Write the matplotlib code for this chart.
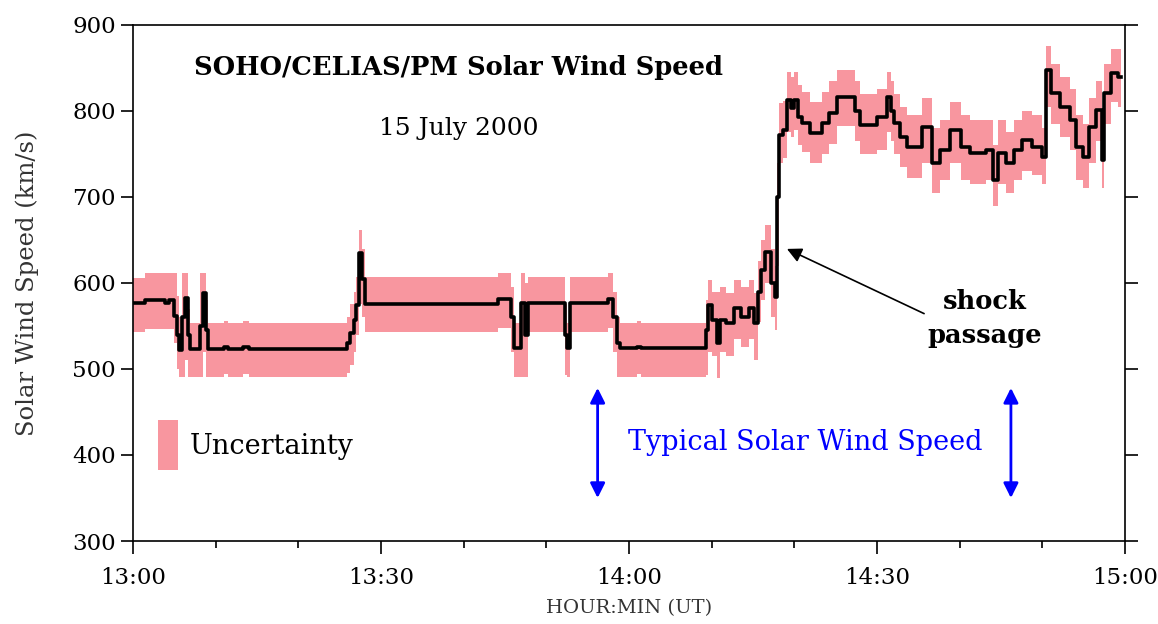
import matplotlib
matplotlib.use("Agg")
import matplotlib.pyplot as plt
from matplotlib.patches import Rectangle
from matplotlib.ticker import MultipleLocator

# minutes after 13:00 UT, speed (km/s) and the uncertainty band edges
minutes = [0.0, 1.4, 3.9, 4.3, 4.9, 5.3, 5.6, 5.9, 6.3, 6.6, 6.9, 8.1, 8.5, 8.8,
           9.1, 11.0, 11.5, 13.3, 14.0, 25.9, 26.3, 26.7, 27.0, 27.3, 27.7,
           28.1, 44.2, 45.7, 46.1, 46.9, 47.4, 47.8, 52.2, 52.5, 52.9, 57.5,
           58.1, 58.5, 58.9, 61.0, 61.5, 69.3, 69.6, 70.0, 70.6, 71.0, 71.7,
           72.7, 73.5, 74.5, 75.1, 75.6, 76.0, 76.5, 77.2, 77.6, 77.9, 78.1,
           78.6, 79.1, 79.6, 80.0, 80.4, 80.9, 81.9, 83.4, 84.2, 85.1, 87.3,
           87.9, 90.0, 91.2, 91.7, 92.1, 92.8, 93.6, 95.4, 96.6, 97.6, 98.8,
           100.2, 101.2, 103.2, 104.0, 104.6, 105.6, 106.6, 107.6, 108.8,
           110.0, 110.5, 111.1, 112.1, 113.3, 114.1, 114.9, 115.7, 116.5,
           117.2, 117.5, 118.3, 119.1, 119.5]
speed = [577, 580, 577, 580, 562, 540, 522, 560, 582, 540, 523, 550, 588, 545,
         523, 526, 523, 526, 523, 530, 542, 557, 574, 635, 605,
         576, 581, 560, 524, 577, 540, 577, 540, 524, 577, 581,
         560, 530, 524, 526, 524, 545, 574, 557, 530, 557, 553,
         571, 560, 571, 553, 590, 615, 636, 600, 584, 700, 772,
         778, 813, 803, 813, 793, 786, 774, 786, 798, 816, 800,
         784, 793, 816, 800, 786, 770, 758, 781, 739, 755, 778,
         758, 751, 755, 720, 751, 739, 755, 766, 758,
         747, 848, 821, 805, 790, 758, 747, 781, 801,
         743, 821, 844, 840, 840]
band_lo = [543, 546, 546, 546, 530, 500, 491, 491, 510, 491, 491, 491, 520, 491,
           491, 494, 491, 494, 491, 495, 505, 520, 540, 575, 560,
           543, 548, 520, 491, 491, 491, 543, 493, 491, 543, 548,
           520, 491, 491, 494, 491, 493, 520, 515, 490, 520, 515,
           535, 525, 535, 510, 555, 580, 600, 560, 545, 620, 740,
           745, 775, 770, 778, 760, 752, 740, 750, 762, 782, 765,
           750, 755, 775, 765, 750, 735, 722, 740, 705, 720, 740,
           720, 715, 720, 690, 715, 705, 720, 730, 725,
           715, 805, 785, 770, 755, 720, 710, 740, 765,
           710, 785, 810, 805, 805]
band_hi = [606, 612, 612, 612, 612, 585, 560, 612, 612, 570, 553, 612, 612, 580,
           553, 556, 553, 556, 553, 560, 575, 590, 607, 662, 640,
           607, 612, 595, 553, 612, 600, 607, 575, 553, 607, 612,
           590, 560, 553, 556, 553, 580, 603, 590, 590, 595, 588,
           603, 595, 603, 588, 625, 650, 667, 640, 620, 740, 809,
           812, 845, 840, 845, 830, 822, 810, 822, 835, 848, 835,
           820, 825, 845, 835, 820, 805, 795, 815, 780, 790, 810,
           795, 790, 790, 760, 790, 775, 790, 800, 795,
           780, 875, 855, 840, 825, 795, 785, 815, 835,
           800, 855, 872, 872, 872]

xtick_pos = [0, 30, 60, 90, 120]
xtick_labels = ["13:00", "13:30", "14:00", "14:30", "15:00"]

pink = "#f8969f"
serif = "DejaVu Serif"

fig = plt.figure(figsize=(11.58, 6.24), dpi=100)
ax = fig.add_axes([0.1149, 0.133, 0.8566, 0.827])

ax.fill_between(minutes, band_lo, band_hi, step="post", color=pink, lw=0)
ax.plot(minutes, speed, drawstyle="steps-post", color="black", lw=2.6)

ax.set_xlim(0, 120)
ax.set_ylim(300, 900)
ax.set_xticks(xtick_pos)
ax.set_xticklabels(xtick_labels)
ax.xaxis.set_minor_locator(MultipleLocator(10))
ax.yaxis.set_major_locator(MultipleLocator(100))
ax.tick_params(axis="x", which="major", pad=10)
ax.tick_params(which="major", direction="out", length=9, width=1.2,
               labelsize=16.5, right=True)
ax.tick_params(which="minor", direction="out", length=5, width=1.2)
for lab in ax.get_xticklabels() + ax.get_yticklabels():
    lab.set_fontfamily(serif)
for s in ax.spines.values():
    s.set_linewidth(1.2)

ax.set_ylabel("Solar Wind Speed (km/s)", fontsize=17.5, family=serif,
              color="#333333", labelpad=24)
ax.set_xlabel("HOUR:MIN (UT)", fontsize=14, family=serif,
              color="#333333", labelpad=7)

ax.text(39.4, 850, "SOHO/CELIAS/PM Solar Wind Speed", fontsize=18.5,
        fontweight="bold", family=serif, ha="center", va="center")
ax.text(39.4, 780, "15 July 2000", fontsize=18, family=serif,
        ha="center", va="center")

ax.annotate("", xy=(78.8, 641), xytext=(96.0, 563),
            arrowprops=dict(arrowstyle="-|>", color="black", lw=1.2,
                            mutation_scale=22))
ax.text(103.0, 559, "shock\npassage", fontsize=18.5, fontweight="bold",
        family=serif, ha="center", va="center", linespacing=1.45)

ax.add_patch(Rectangle((3.0, 383), 2.4, 58, color=pink, lw=0))
ax.text(6.9, 410, "Uncertainty", fontsize=19.5, family=serif, va="center")

for xa in [56.2, 106.2]:
    ax.annotate("", xy=(xa, 350), xytext=(xa, 478),
                arrowprops=dict(arrowstyle="<|-|>", color="blue", lw=2,
                                mutation_scale=22, shrinkA=0, shrinkB=0))
ax.text(59.9, 414, "Typical Solar Wind Speed", fontsize=19.5, family=serif,
        color="blue", va="center")

fig.savefig("out.png", dpi=100)
